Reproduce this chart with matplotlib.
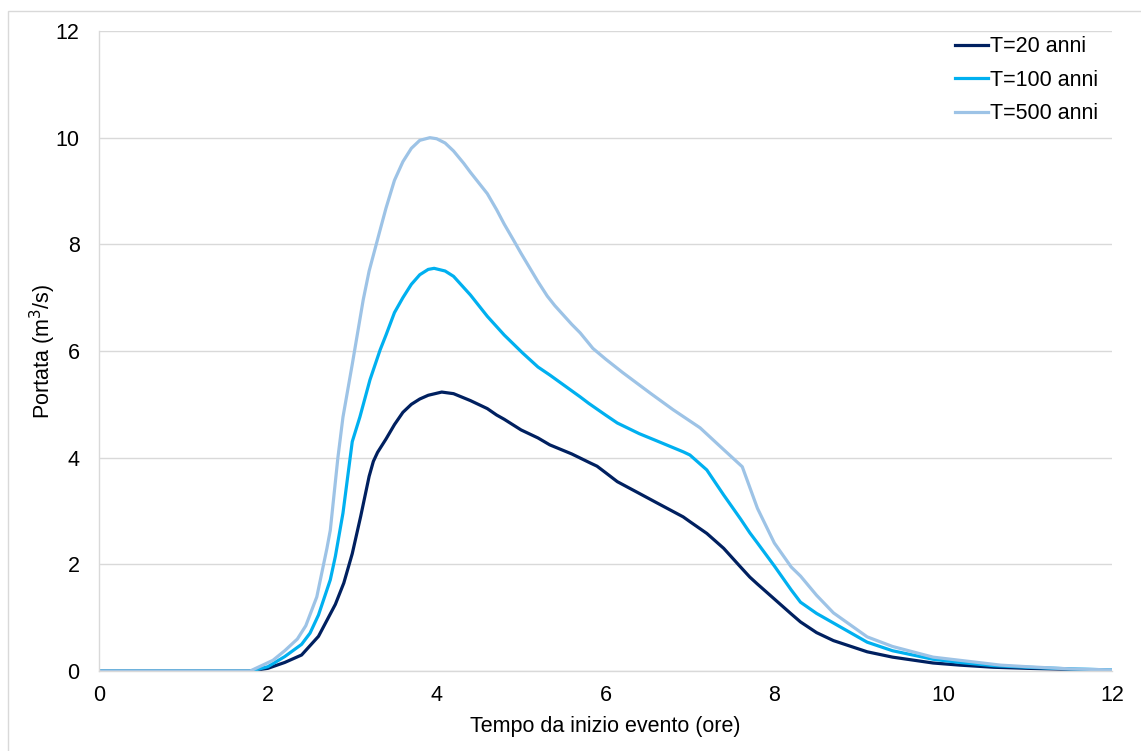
import matplotlib
matplotlib.use("Agg")
import matplotlib.pyplot as plt
from matplotlib.patches import Rectangle

plt.rcParams['font.family'] = ['Liberation Sans', 'DejaVu Sans']

# Idrogrammi di piena (ore, m3/s)
t_20 = [0, 1.8, 2.0, 2.2, 2.4, 2.6, 2.8, 2.9, 3.0, 3.1, 3.2, 3.25, 3.3, 3.4, 3.5, 3.6, 3.7, 3.8, 3.9,
        4.06, 4.2, 4.4, 4.6, 4.71, 4.8, 5.0, 5.2, 5.34, 5.6, 5.82, 5.9, 6.0, 6.14, 6.4, 6.6,
        6.92, 7.0, 7.2, 7.4, 7.6, 7.71, 7.8, 8.0, 8.2, 8.31, 8.5, 8.7, 9.1, 9.4, 9.88, 10.2,
        10.6, 11.0, 11.5, 12.0]
q_20 = [0, 0, 0.05, 0.16, 0.3, 0.65, 1.25, 1.65, 2.2, 2.9, 3.65, 3.93, 4.1, 4.35, 4.62, 4.85, 5.0, 5.1, 5.17,
        5.23, 5.2, 5.07, 4.92, 4.8, 4.72, 4.52, 4.37, 4.24, 4.07, 3.9, 3.84, 3.72, 3.55, 3.33, 3.16,
        2.89, 2.8, 2.58, 2.3, 1.95, 1.76, 1.63, 1.35, 1.07, 0.92, 0.72, 0.57, 0.36, 0.26, 0.15, 0.11,
        0.07, 0.05, 0.03, 0.01]

t_100 = [0, 1.8, 2.0, 2.2, 2.4, 2.5, 2.6, 2.74, 2.8, 2.89, 3.0, 3.09, 3.21, 3.33, 3.4, 3.5, 3.6, 3.7, 3.8,
         3.9, 3.97, 4.1, 4.2, 4.4, 4.51, 4.6, 4.8, 5.02, 5.2, 5.34, 5.7, 5.8, 6.0, 6.14, 6.4, 6.6,
         6.92, 7.0, 7.2, 7.4, 7.6, 7.71, 7.8, 8.0, 8.2, 8.31, 8.5, 8.7, 9.1, 9.4, 9.88, 10.2,
         10.6, 11.0, 11.5, 12.0]
q_100 = [0, 0, 0.08, 0.27, 0.5, 0.71, 1.05, 1.71, 2.15, 2.96, 4.3, 4.76, 5.46, 6.02, 6.3, 6.72, 7.0, 7.25, 7.43,
         7.53, 7.55, 7.5, 7.4, 7.05, 6.83, 6.65, 6.3, 5.96, 5.7, 5.55, 5.14, 5.02, 4.8, 4.65, 4.45, 4.32,
         4.11, 4.05, 3.77, 3.3, 2.85, 2.59, 2.4, 1.97, 1.52, 1.29, 1.08, 0.9, 0.54, 0.38, 0.22, 0.16,
         0.1, 0.07, 0.04, 0.02]

t_500 = [0, 1.79, 2.06, 2.2, 2.35, 2.45, 2.58, 2.7, 2.74, 2.83, 2.89, 3.0, 3.13, 3.2, 3.33, 3.4,
         3.5, 3.6, 3.7, 3.8, 3.92, 4.0, 4.1, 4.2, 4.32, 4.4, 4.6, 4.71, 4.8, 4.91, 5.0, 5.2, 5.31, 5.4, 5.6,
         5.7, 5.85, 6.0, 6.2, 6.53, 6.8, 7.12, 7.4, 7.62, 7.8, 8.0, 8.2, 8.31, 8.5, 8.7, 9.1, 9.4,
         9.88, 10.2, 10.68, 11.0, 11.5, 12.0]
q_500 = [0, 0, 0.2, 0.38, 0.6, 0.85, 1.39, 2.3, 2.64, 4.0, 4.76, 5.75, 6.96, 7.5, 8.27, 8.68,
         9.2, 9.55, 9.8, 9.95, 10.0, 9.98, 9.9, 9.75, 9.52, 9.35, 8.95, 8.65, 8.38, 8.08, 7.83, 7.3, 7.03, 6.85, 6.5,
         6.34, 6.05, 5.85, 5.6, 5.21, 4.9, 4.56, 4.15, 3.83, 3.05, 2.4, 1.95, 1.78, 1.42, 1.09, 0.64, 0.46,
         0.26, 0.2, 0.11, 0.08, 0.04, 0.02]

labels = ["T=20 anni", "T=100 anni", "T=500 anni"]
colors = ["#002060", "#00B0F0", "#9DC3E6"]

fig = plt.figure(figsize=(11.41, 7.51), dpi=100)
fig.patches.append(Rectangle((8 / 1141, -0.1), 1.2, 1 - 11 / 751 + 0.1, transform=fig.transFigure,
                             fill=False, edgecolor="#D9D9D9", linewidth=1.0))
ax = fig.add_axes([99 / 1141, 1 - 671 / 751, 1013 / 1141, 640 / 751])

for t, q, lab, c in zip([t_20, t_100, t_500], [q_20, q_100, q_500], labels, colors):
    ax.plot(t, q, color=c, linewidth=2.3, label=lab, solid_joinstyle="round")

ax.set_xlim(0, 12)
ax.set_ylim(0, 12)
ax.set_xticks(range(0, 13, 2))
ax.set_yticks(range(0, 13, 2))
ax.yaxis.grid(True, color="#D9D9D9", linewidth=1.0)
ax.set_axisbelow(True)
for s in ["top", "right"]:
    ax.spines[s].set_visible(False)
for s in ["left", "bottom"]:
    ax.spines[s].set_color("#D9D9D9")
    ax.spines[s].set_linewidth(1.0)
ax.tick_params(length=0, labelsize=15.5, colors="black")
ax.tick_params(axis="x", pad=10)
ax.tick_params(axis="y", pad=14)

ax.set_xlabel("Tempo da inizio evento (ore)", fontsize=15.5, labelpad=7)
ax.set_ylabel("Portata (m$^3$/s)", fontsize=15.5, labelpad=-2)

ax.legend(loc="upper right", frameon=False, fontsize=15.5, handlelength=1.55, handletextpad=0.1,
          labelspacing=0.58, borderaxespad=0.0, bbox_to_anchor=(0.995, 1.005))

fig.savefig("out.png", dpi=100)
